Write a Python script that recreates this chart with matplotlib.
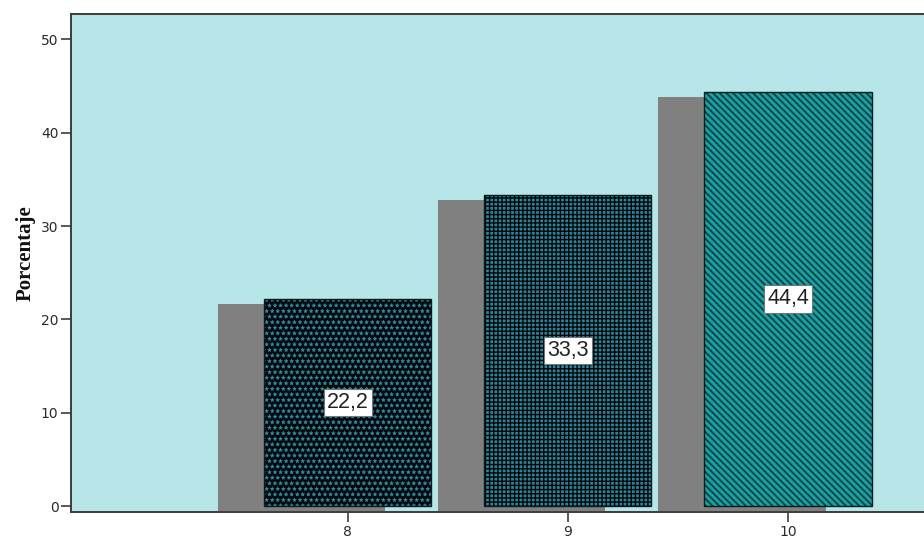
import matplotlib
matplotlib.use("Agg")
import matplotlib.pyplot as plt
from matplotlib.transforms import offset_copy

# valores del grafico
categorias = [8, 9, 10]
porcentajes = [22.2, 33.3, 44.4]
etiquetas = ["22,2", "33,3", "44,4"]

# relleno de cada barra: (cara, trama, color de trama, grosor de trama)
estilos = [
    ("#03090e", "***", "#3390a2", 0.3),
    ("#2b8496", "++++", "#03070c", 1.0),
    ("#1aa09e", "\\\\\\\\\\", "#0b4349", 1.3),
]

plt.rcParams["hatch.linewidth"] = 1.0

fig = plt.figure(figsize=(9.24, 5.42), dpi=100)
ax = fig.add_axes([71 / 924, 30 / 542, 853 / 924, 498 / 542])
ax.set_facecolor("#b7e6e8")

ancho = 0.76

# sombra gris desplazada a la izquierda y hacia abajo
sombra = offset_copy(ax.transData, fig=fig, x=-46, y=-5, units="dots")
ax.bar(categorias, porcentajes, width=ancho, color="#808080",
       transform=sombra, zorder=1)

for x, v, (cara, trama, ctrama, grosor) in zip(categorias, porcentajes, estilos):
    # la trama toma el color del borde, el contorno va aparte
    b = ax.bar(x, v, width=ancho, facecolor=cara, edgecolor=ctrama,
               hatch=trama, linewidth=0, zorder=2)
    for p in b:
        if hasattr(p, "set_hatch_linewidth"):
            p.set_hatch_linewidth(grosor)
    ax.bar(x, v, width=ancho, fill=False, edgecolor="#0a1a1e",
           linewidth=1.0, zorder=3)

for x, v, txt in zip(categorias, porcentajes, etiquetas):
    ax.text(x, v / 2, txt, ha="center", va="center", fontsize=15.5,
            family="Liberation Sans", color="#222222", zorder=4,
            bbox=dict(boxstyle="square,pad=0.15", facecolor="white",
                      edgecolor="#777777", linewidth=0.8))

ax.set_xlim(6.743, 10.618)
ax.set_ylim(-0.64, 52.73)
ax.set_xticks(categorias)
ax.set_yticks([0, 10, 20, 30, 40, 50])

for lado in ["left", "top", "bottom"]:
    ax.spines[lado].set_color("#3c3c3c")
    ax.spines[lado].set_linewidth(1.4)
ax.spines["right"].set_visible(False)

ax.tick_params(axis="both", direction="out", length=7, width=1.2,
               color="#3c3c3c", labelsize=10, labelcolor="#2a2a2a",
               pad=2)

ax.set_ylabel("Porcentaje", family="Liberation Serif", fontweight="bold",
              fontsize=15, color="#111111")
ax.yaxis.set_label_coords(-0.042, 0.52)

fig.savefig("out.png", dpi=100)
